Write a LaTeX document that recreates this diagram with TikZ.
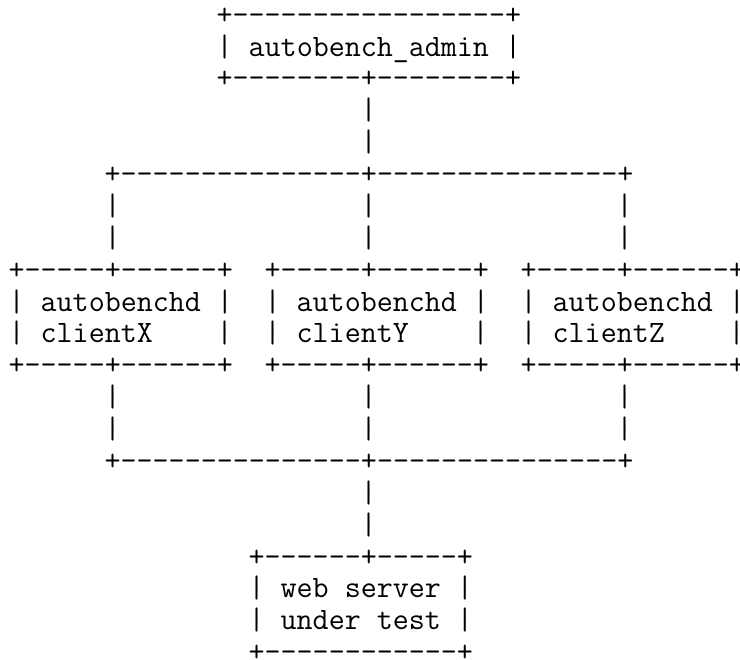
\documentclass[tikz,border=0pt]{standalone}
\usepackage{tikz}
\newcommand{\asciifont}{\ttfamily\fontsize{23.33pt}{23.9pt}\selectfont}
\newcommand{\dashrun}[1]{\foreach \k in {1,...,#1}{-}}

\begin{document}
\begin{tikzpicture}[
  x = 12pt, y = -23.9pt,
  every node/.style = {font=\asciifont, inner sep=0pt, anchor=base west},
  bar/.style = {}
]
  \useasboundingbox (-6.3pt,18.2pt) rectangle (548.7pt,-476.8pt);

  \node (admintop) at (13,0) {+\dashrun{17}+};
  \node (admin)    at (13,1) {| autobench\_admin |};
  \node (adminbot) at (13,2) {+\dashrun{8}+\dashrun{8}+};
  \node[bar] (up1) at (22,3) {|};
  \node[bar] (up2) at (22,4) {|};
  \node (fanout)   at (6,5)  {+\dashrun{15}+\dashrun{15}+};

  \foreach \c/\n in {0/X,16/Y,32/Z} {
    \node (top\n)    at (\c,8)     {+\dashrun{5}+\dashrun{6}+};
    \node (daemon\n) at (\c,9)     {| autobenchd |};
    \node (client\n) at (\c,10)    {| client\n};
    \node (side\n)   at (\c+13,10) {|};
    \node (bot\n)    at (\c,11)    {+\dashrun{5}+\dashrun{6}+};
  }
  \foreach \c/\n in {6/X,22/Y,38/Z}
    \foreach \r in {6,7,12,13}
      \node[bar] (bar\n\r) at (\c,\r) {|};

  \node (fanin)    at (6,14)  {+\dashrun{15}+\dashrun{15}+};
  \node[bar] (dn1) at (22,15) {|};
  \node[bar] (dn2) at (22,16) {|};
  \node (webtop)   at (15,17) {+\dashrun{6}+\dashrun{5}+};
  \node (web)      at (15,18) {| web server |};
  \node (test)     at (15,19) {| under test |};
  \node (webbot)   at (15,20) {+\dashrun{12}+};
\end{tikzpicture}
\end{document}
